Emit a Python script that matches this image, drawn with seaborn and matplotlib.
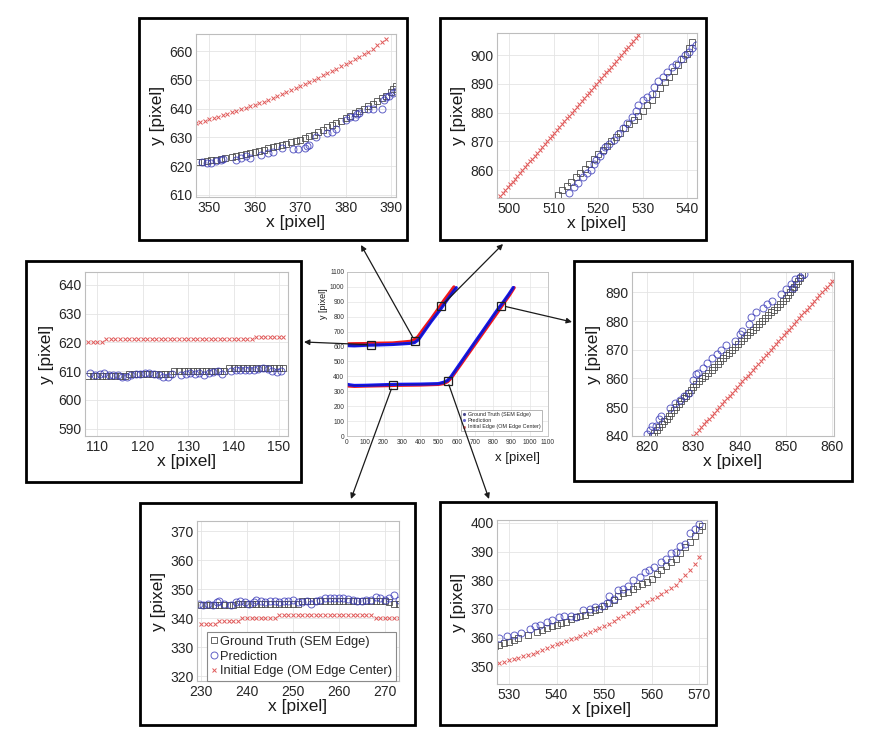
import matplotlib
matplotlib.use("Agg")
import matplotlib.pyplot as plt
from matplotlib.patches import Rectangle, ConnectionPatch
from matplotlib.lines import Line2D
import seaborn as sns

W, H = 892, 739

# ---------------- data ----------------
# overview: upper and lower edges
up_gt_x = [0, 40, 108, 151, 250, 347, 370, 391, 420, 460, 511, 541, 570, 595]
up_gt_y = [606, 604, 608, 611, 614, 621.5, 629, 647, 698, 766, 851, 905, 952, 998]
up_pred_x = [0, 40, 108, 151, 250, 347, 370, 391, 420, 460, 513, 542, 570, 598]
up_pred_y = [607, 605, 609, 610, 614, 621.5, 627, 646, 697, 767, 852, 903, 950, 995]
up_init_x = [0, 40, 108, 151, 250, 347, 370, 388, 420, 460, 498, 529, 560, 585]
up_init_y = [618, 619, 620, 622, 624, 635, 648, 666, 720, 785, 851, 907, 958, 1000]

lo_gt_x = [0, 15, 40, 100, 230, 273, 400, 500, 527, 550, 570, 620, 700, 780, 821, 854, 885, 910]
lo_gt_y = [346, 342, 338, 339, 344.5, 345.5, 347, 350, 357, 371, 398, 486, 627, 768, 840, 896, 950, 996]
lo_pred_x = [0, 15, 40, 100, 230, 273, 400, 500, 528, 550, 570, 620, 700, 780, 820, 854, 885, 910]
lo_pred_y = [347, 343, 339, 340, 345, 346.5, 348, 351, 360, 372, 399.5, 488, 629, 770, 841, 896.5, 950, 996]
lo_init_x = [0, 15, 40, 100, 229, 273, 400, 500, 527, 550, 570, 620, 700, 780, 830, 860, 890, 915]
lo_init_y = [336, 335, 333, 335, 338, 340, 342, 346, 351, 364, 388, 475, 614, 753, 840, 894, 946, 995]

# zoom locations marked on the overview
zoom_x = [130, 370, 515, 250, 550, 845]
zoom_y = [612, 640, 870, 340, 370, 875]

# top-left zoom
tl_init_x = [347, 348, 349, 350, 351, 352, 353, 354, 355, 356, 357, 358, 359, 360, 361, 362, 363, 364, 365, 366, 367,
             368, 369, 370, 371, 372, 373, 374, 375, 376, 377, 378, 379, 380, 381, 382, 383, 384, 385, 386, 387, 388, 389]
tl_init_y = [635.0, 635.4, 635.9, 636.3, 636.8, 637.3, 637.8, 638.3, 638.8, 639.3, 639.8, 640.3, 640.8, 641.3, 641.9,
             642.5, 643.1, 643.7, 644.4, 645.1, 645.8, 646.5, 647.2, 648.0, 648.7, 649.4, 650.1, 650.8, 651.6, 652.4,
             653.1, 653.9, 654.7, 655.5, 656.3, 657.2, 658.1, 659.0, 659.9, 660.9, 662.0, 663.1, 664.3]
tl_gt_x = [347.5, 348.5, 349.5, 350.5, 351.5, 352.5, 353.5, 355, 356, 357, 358, 359, 360, 361, 362, 363, 364, 365, 366,
           367, 368, 369, 370, 371, 372, 373, 374, 375, 376, 377, 378, 379, 380, 381, 382, 383, 384, 385, 386, 387, 388,
           389, 390, 390.5, 391]
tl_gt_y = [621.5, 621.5, 621.7, 622, 622.2, 622.5, 622.8, 623.2, 623.6, 624, 624.3, 624.6, 625, 625.4, 625.8, 626.2,
           626.6, 627, 627.4, 627.9, 628.4, 628.8, 629.2, 629.8, 630.4, 631, 631.8, 632.7, 633.5, 634.3, 635.1, 635.9,
           636.8, 637.6, 638.4, 639.2, 640, 640.9, 641.8, 642.7, 643.6, 644.6, 645.8, 646.8, 648]
tl_pred_x = [348.5, 349.5, 350.5, 351.5, 352.5, 353, 356, 357, 358, 359, 361.5, 363, 364, 366, 368.5, 369.5, 371,
             371.5, 372, 373.5, 376, 377, 378, 380, 381, 382, 382.5, 383, 385, 386, 388, 388.5, 389, 389.5, 390.5, 391]
tl_pred_y = [621.5, 621.3, 621.3, 621.8, 622, 622.5, 622, 622.8, 623.5, 623, 624, 624.5, 625, 626.5, 626, 626, 626.5,
             627, 627.5, 630, 631.5, 632, 633, 636, 637, 637, 638, 638.5, 640, 640, 640, 643, 644, 644.5, 645.5, 646]

# top-right zoom
tr_init_x = [498.0, 498.6, 499.1, 499.7, 500.2, 500.8, 501.3, 501.9, 502.4, 503.0, 503.5, 504.1, 504.6, 505.2, 505.8,
             506.3, 506.9, 507.4, 508.0, 508.5, 509.1, 509.6, 510.2, 510.7, 511.3, 511.9, 512.4, 513.0, 513.5, 514.1,
             514.6, 515.2, 515.7, 516.3, 516.8, 517.4, 517.9, 518.5, 519.1, 519.6, 520.2, 520.7, 521.3, 521.8, 522.4,
             522.9, 523.5, 524.0, 524.6, 525.1, 525.7, 526.3, 526.8, 527.4, 527.9, 528.5, 529.0]
tr_init_y = [851, 852, 853, 854, 855, 856, 857, 858, 859, 860, 861, 862, 863, 864, 865, 866, 867, 868, 869, 870, 871,
             872, 873, 874, 875, 876, 877, 878, 879, 880, 881, 882, 883, 884, 885, 886, 887, 888, 889, 890, 891, 892,
             893, 894, 895, 896, 897, 898, 899, 900, 901, 902, 903, 904, 905, 906, 907]
tr_gt_x = [511, 512, 513, 514, 515, 516, 517, 518, 519, 520, 521, 522, 523, 524, 525, 526, 527, 528, 529, 530, 531,
           532, 533, 534, 535, 536, 537, 538, 539, 540, 540.5, 541]
tr_gt_y = [851.5, 853, 854.5, 856, 857.5, 859, 860.5, 862, 864, 865.5, 867, 868.5, 870, 871.5, 873, 874.5, 876, 877.5,
           879, 880.5, 882.5, 884.5, 886.5, 888.5, 890.5, 892.5, 894.5, 896.5, 898.5, 900.5, 902.5, 904.5]
tr_pred_x = [513.5, 514.5, 515.5, 516.5, 517.5, 518.5, 519, 519.5, 520.5, 521, 521.5, 522.5, 523.5, 524.5, 525.5,
             526.5, 527.5, 528.5, 529, 530, 531, 532, 532.5, 533.5, 534.5, 535.5, 536.5, 537.5, 538.5, 539.5, 540.5,
             541, 542]
tr_pred_y = [852, 854, 855.5, 857.5, 859, 860, 862, 863.5, 865, 866.5, 868, 869, 870.5, 872.5, 874.5, 876.5, 878.5,
             880.5, 882.5, 884.5, 885.5, 886.5, 889, 891, 892.5, 894, 896, 897, 898.5, 900, 901, 902.5, 903.5]

# middle-left zoom
ml_x = [108, 109, 110, 111, 112, 113, 114, 115, 116, 117, 118, 119, 120, 121, 122, 123, 124, 125, 126, 127, 128, 129,
        130, 131, 132, 133, 134, 135, 136, 137, 138, 139, 140, 141, 142, 143, 144, 145, 146, 147, 148, 149, 150, 151]
ml_init_y = [620, 620, 620, 620, 621, 621, 621, 621, 621, 621, 621, 621, 621, 621, 621, 621, 621, 621, 621, 621, 621,
             621, 621, 621, 621, 621, 621, 621, 621, 621, 621, 621, 621, 621, 621, 621, 621, 622, 622, 622, 622, 622,
             622, 622]
ml_gt_y = [608.3, 608.3, 608.3, 608.3, 608.3, 608.3, 608.3, 608.3, 608.3, 609, 609, 609, 609, 609, 609, 609, 609, 609,
           609, 610, 610, 610, 610, 610, 610, 610, 610, 610, 610, 610, 610, 611, 611, 611, 611, 611, 611, 611, 611,
           611, 611, 611, 611, 611]
ml_pred_x = [108.5, 109.5, 110.5, 111.5, 112.5, 113.5, 114.5, 115.5, 116.5, 117.5, 118.5, 119.5, 120.5, 121.5, 122.5,
             123.5, 124.5, 125.5, 126.5, 128.5, 129.5, 130.5, 131.5, 132.5, 133.5, 134.5, 135.5, 136.5, 137.5, 139.5,
             140.5, 141.5, 142.5, 143.5, 144.5, 145.5, 146.5, 147.5, 148.5, 149.5, 150.5]
ml_pred_y = [609.5, 608.5, 609, 609.5, 608.5, 608.5, 608.5, 608, 608, 608.5, 609, 609, 609.3, 609.3, 609, 608.5,
             607.8, 608, 609, 608.5, 609, 609.5, 609, 609.5, 608.8, 609.5, 609.8, 610, 609, 610, 610.3, 610.5, 610.5,
             610.3, 610.5, 610.8, 611, 610.8, 610, 609.8, 610]

# middle-right zoom
mr_init_x = [830.0, 830.6, 831.1, 831.7, 832.2, 832.8, 833.3, 833.9, 834.4, 835.0, 835.6, 836.1, 836.7, 837.2, 837.8,
             838.3, 838.9, 839.5, 840.0, 840.6, 841.1, 841.7, 842.2, 842.8, 843.3, 843.9, 844.5, 845.0, 845.6, 846.1,
             846.7, 847.2, 847.8, 848.3, 848.9, 849.5, 850.0, 850.6, 851.1, 851.7, 852.2, 852.8, 853.3, 853.9, 854.5,
             855.0, 855.6, 856.1, 856.7, 857.2, 857.8, 858.4, 858.9, 859.5, 860.0]
mr_init_y = [840, 841, 842, 843, 844, 845, 846, 847, 848, 849, 850, 851, 852, 853, 854, 855, 856, 857, 858, 859, 860,
             861, 862, 863, 864, 865, 866, 867, 868, 869, 870, 871, 872, 873, 874, 875, 876, 877, 878, 879, 880, 881,
             882, 883, 884, 885, 886, 887, 888, 889, 890, 891, 892, 893, 894]
mr_gt_x = [821.0, 821.5, 822.1, 822.6, 823.1, 823.7, 824.2, 824.7, 825.2, 825.8, 826.3, 826.8, 827.3, 827.9, 828.4,
           828.9, 829.5, 830.0, 830.6, 831.3, 831.9, 832.6, 833.2, 833.9, 834.5, 835.2, 835.8, 836.4, 837.1, 837.7,
           838.4, 839.0, 839.7, 840.3, 841.0, 841.6, 842.3, 842.9, 843.5, 844.2, 844.8, 845.5, 846.1, 846.8, 847.4,
           848.1, 848.7, 849.4, 850.0, 850.4, 850.9, 851.3, 851.7, 852.1, 852.6, 853.0, 853.5]
mr_gt_y = [840, 841, 842, 843, 844, 845, 846, 847, 848, 849, 850, 851, 852, 853, 854, 855, 856, 857, 858, 859, 860,
           861, 862, 863, 864, 865, 866, 867, 868, 869, 870, 871, 872, 873, 874, 875, 876, 877, 878, 879, 880, 881,
           882, 883, 884, 885, 886, 887, 888, 889, 890, 891, 892, 893, 894, 895, 896]
mr_pred_x = [820, 820.5, 821, 822, 822.5, 823, 825, 826, 827, 828, 829, 830, 830.5, 831, 832, 833, 834, 835, 836, 837,
             839, 840, 840.5, 842, 842.5, 843.5, 845, 846, 847, 849, 850, 851, 851.5, 852, 853, 854]
mr_pred_y = [840.5, 842, 843.5, 843.5, 846, 847, 849.5, 851.5, 852.5, 854, 855, 859.5, 861.5, 862, 863.5, 865.5, 867,
             868.5, 870, 871.5, 873, 875.5, 876.5, 879, 881.5, 883, 884.5, 886, 887, 889.5, 891, 893, 891.5, 894.5,
             895.5, 896.5]

# bottom-left zoom
bl_x = [230, 231, 232, 233, 234, 235, 236, 237, 238, 239, 240, 241, 242, 243, 244, 245, 246, 247, 248, 249, 250, 251,
        252, 253, 254, 255, 256, 257, 258, 259, 260, 261, 262, 263, 264, 265, 266, 267, 268, 269, 270, 271, 272, 273]
bl_init_y = [338, 338, 338, 338, 339, 339, 339, 339, 339, 340, 340, 340, 340, 340, 340, 340, 340, 341, 341, 341, 341,
             341, 341, 341, 341, 341, 341, 341, 341, 341, 341, 341, 341, 341, 341, 341, 341, 341, 340, 340, 340, 340,
             340, 340]
bl_gt_y = [344.5, 344.5, 344.5, 344.5, 344.5, 344.5, 344.5, 344.5, 345, 345, 345, 345, 345, 345, 345, 345, 345, 345,
           345, 345, 345, 345, 346, 346, 346, 346, 346, 346, 346, 346, 346, 346, 346, 346, 346, 346, 346, 346, 346,
           346, 346, 345.5, 345, 345]
bl_pred_x = [229.5, 230.5, 231.5, 232.5, 233.5, 234, 235, 236.5, 237.5, 238.5, 239.5, 240.5, 241.5, 242, 243, 244, 245,
             246, 247, 248, 249, 250, 251, 252, 253, 254, 255, 256, 257, 258, 259, 260, 261, 262, 263, 264, 265, 266,
             267, 268, 269, 270, 271, 272, 273]
bl_pred_y = [345, 344.5, 345, 344.5, 345.5, 346, 345, 344.5, 345.5, 346, 345.5, 345, 345.5, 346.5, 346, 345.5, 346,
             346, 345.5, 346, 346, 346.5, 345.5, 345.5, 346, 345, 346, 346.5, 347, 347, 347, 347.2, 347, 346.8, 346.5,
             346, 346, 346.5, 346.5, 347.5, 347, 346.5, 347, 348, 346.5]

# bottom-right zoom
br_init_x = [527, 528, 529, 530, 531, 532, 533, 534, 535, 536, 537, 538, 539, 540, 541, 542, 543, 544, 545, 546, 547,
             548, 549, 550, 551, 552, 553, 554, 555, 556, 557, 558, 559, 560, 561, 562, 563, 564, 565, 566, 567, 568,
             569, 570]
br_init_y = [350.8, 351.1, 351.5, 352.0, 352.4, 352.9, 353.4, 353.9, 354.4, 355.0, 355.6, 356.2, 356.9, 357.6, 358.2,
             358.8, 359.4, 360.0, 360.6, 361.3, 362.0, 362.6, 363.3, 364.0, 364.9, 365.8, 366.7, 367.6, 368.5, 369.4,
             370.3, 371.3, 372.3, 373.3, 374.3, 375.3, 376.3, 377.3, 378.5, 380.0, 381.7, 383.6, 385.8, 388.2]
br_gt_x = [527, 528, 529, 530, 531, 532, 534, 536, 537, 538, 539, 540, 541, 542, 543, 544, 545, 546, 547, 548, 549,
           550, 551, 552, 553, 554, 555, 556, 557, 558, 559, 560, 561, 562, 563, 564, 565, 566, 567, 568, 569, 570,
           570.5]
br_gt_y = [357, 357.5, 358, 358.5, 359, 360, 361, 362, 362.5, 363.5, 364, 364.5, 365, 365.5, 366.5, 367, 367.5, 368,
           369, 369.5, 370, 371, 372, 373, 374.5, 375.5, 376, 377, 378, 378.8, 379.5, 380.5, 382, 383.5, 385, 386.3,
           387.5, 389.5, 391.5, 393.5, 395.5, 397.5, 399]
br_pred_x = [528, 529.5, 531, 532.5, 534.5, 535.5, 536.5, 538, 539, 540.5, 541.5, 543, 544, 545.5, 547, 548, 549.5,
             550.5, 551, 552, 553, 554, 555, 556, 557.5, 558.5, 559.5, 560.5, 562, 563, 564, 565, 566, 567, 568, 569,
             570]
br_pred_y = [360, 360.5, 361, 361.5, 363, 364, 364.5, 365.5, 366, 367, 367.5, 367.5, 367, 369.5, 370, 370.5, 371, 372,
             374.5, 373.5, 376.5, 377, 378, 380, 381, 383, 383.5, 384.5, 386.5, 387.5, 389.5, 390, 392, 392.5, 396.5,
             398, 399.5]

labels = ["Ground Truth (SEM Edge)", "Prediction", "Initial Edge (OM Edge Center)"]

# ---------------- styling ----------------
sns.set_style("whitegrid")
plt.rcParams['font.family'] = ['Liberation Sans', 'DejaVu Sans']

GT_C = "#4a4a4a"
PRED_C = "#3a3ab8"
INIT_C = "#e05a5a"

fig = plt.figure(figsize=(W / 100, H / 100), dpi=100)


def px_axes(l, t, r, b):
    return fig.add_axes([l / W, 1 - b / H, (r - l) / W, (b - t) / H])


def style_ax(ax, xlim, ylim, xticks, yticks, fs=10, lab=12.5):
    ax.set_xlim(xlim)
    ax.set_ylim(ylim)
    ax.set_xticks(xticks)
    ax.set_yticks(yticks)
    ax.grid(True, color="#e4e4e4", lw=0.6)
    for s in ax.spines.values():
        s.set_color("#bdbdbd")
        s.set_linewidth(0.8)
    ax.tick_params(axis="x", length=0, labelsize=fs, labelcolor="#262626", pad=3)
    ax.tick_params(axis="y", length=0, labelsize=fs, labelcolor="#262626", pad=2.5)
    ax.set_xlabel("x [pixel]", fontsize=lab, labelpad=0, color="#1a1a1a")
    ax.set_ylabel("y [pixel]", fontsize=lab, labelpad=3, color="#1a1a1a")


def pts(ax, x, y, marker, color, ms, label=None, alpha=1.0):
    sns.lineplot(x=x, y=y, ax=ax, estimator=None, sort=False, linestyle="none",
                 marker=marker, markersize=ms, markerfacecolor="none",
                 markeredgecolor=color, markeredgewidth=0.7, color=color,
                 alpha=alpha, label=label, legend=False)


def zoom_panel(box, frame, xlim, ylim, xticks, yticks, gt, pred, init, legend=False):
    l, t, r, b = frame
    fig.add_artist(Rectangle((l / W, 1 - b / H), (r - l) / W, (b - t) / H,
                             transform=fig.transFigure, fill=False, ec="black", lw=2))
    ax = px_axes(*box)
    pts(ax, init[0], init[1], "x", INIT_C, 3.2, labels[2])
    pts(ax, gt[0], gt[1], "s", GT_C, 4.2, labels[0], alpha=0.85)
    pts(ax, pred[0], pred[1], "o", PRED_C, 5.0, labels[1], alpha=0.8)
    style_ax(ax, xlim, ylim, xticks, yticks)
    if legend:
        h, lb = ax.get_legend_handles_labels()
        order = [lb.index(s) for s in labels]
        leg = ax.legend([h[i] for i in order], [lb[i] for i in order], loc="lower right",
                        bbox_to_anchor=(0.985, 0.0), borderaxespad=0, fontsize=9.3,
                        handlelength=0.5, handletextpad=0.2, labelspacing=0.2,
                        borderpad=0.3, fancybox=False, framealpha=1)
        leg.get_frame().set_edgecolor("#8a8a8a")
        leg.get_frame().set_linewidth(0.8)
    return ax


zoom_panel((196, 34, 396, 197), (139, 18, 407, 240), (347.1, 391.1), (609.3, 666),
           [350, 360, 370, 380, 390], [610, 620, 630, 640, 650, 660],
           (tl_gt_x, tl_gt_y), (tl_pred_x, tl_pred_y), (tl_init_x, tl_init_y))
zoom_panel((497, 33, 697, 198), (440, 18, 706, 240), (497.3, 542.2), (850.3, 907.7),
           [500, 510, 520, 530, 540], [860, 870, 880, 890, 900],
           (tr_gt_x, tr_gt_y), (tr_pred_x, tr_pred_y), (tr_init_x, tr_init_y))
zoom_panel((85, 272, 288, 436), (26, 261, 301, 482), (107.3, 152), (587.5, 644.4),
           [110, 120, 130, 140, 150], [590, 600, 610, 620, 630, 640],
           (ml_x, ml_gt_y), (ml_pred_x, ml_pred_y), (ml_x, ml_init_y))
zoom_panel((632, 272, 834, 436), (574, 261, 852, 481), (816.7, 860.4), (839.9, 897.1),
           [820, 830, 840, 850, 860], [840, 850, 860, 870, 880, 890],
           (mr_gt_x, mr_gt_y), (mr_pred_x, mr_pred_y), (mr_init_x, mr_init_y))
zoom_panel((197, 521, 399, 681), (140, 503, 415, 725), (229.1, 273.1), (318.4, 373.6),
           [230, 240, 250, 260, 270], [320, 330, 340, 350, 360, 370],
           (bl_x, bl_gt_y), (bl_pred_x, bl_pred_y), (bl_x, bl_init_y), legend=True)
zoom_panel((497, 520, 707, 684), (440, 502, 716, 725), (527.5, 571.6), (343.8, 401),
           [530, 540, 550, 560, 570], [350, 360, 370, 380, 390, 400],
           (br_gt_x, br_gt_y), (br_pred_x, br_pred_y), (br_init_x, br_init_y))

# ---------------- overview ----------------
axc = px_axes(347, 272, 548, 436)
for gx, gy, px_, py_, ix, iy in [(up_gt_x, up_gt_y, up_pred_x, up_pred_y, up_init_x, up_init_y),
                                 (lo_gt_x, lo_gt_y, lo_pred_x, lo_pred_y, lo_init_x, lo_init_y)]:
    sns.lineplot(x=ix, y=iy, ax=axc, estimator=None, sort=False, color="#f01818", lw=2.3)
    sns.lineplot(x=px_, y=py_, ax=axc, estimator=None, sort=False, color="#1414f0", lw=2.3)
    sns.lineplot(x=gx, y=gy, ax=axc, estimator=None, sort=False, color="#202040", lw=0.5, alpha=0.6)
sns.lineplot(x=zoom_x, y=zoom_y, ax=axc, estimator=None, sort=False, linestyle="none", marker="s",
             markersize=5.5, markerfacecolor="none", markeredgecolor="#202020", markeredgewidth=0.9)
axc.set_xlim(0, 1100)
axc.set_ylim(0, 1100)
ticks = [0, 100, 200, 300, 400, 500, 600, 700, 800, 900, 1000, 1100]
axc.set_xticks(ticks)
axc.set_yticks(ticks)
axc.grid(True, color="#e4e4e4", lw=0.5)
for s in axc.spines.values():
    s.set_color("#bdbdbd")
    s.set_linewidth(0.6)
axc.tick_params(length=0, labelsize=4.8, labelcolor="#333333", pad=2)
axc.set_xlabel("x [pixel]", fontsize=9.5, color="#1a1a1a")
axc.xaxis.set_label_coords(0.846, -0.095)
axc.set_ylabel("y [pixel]", fontsize=6.5, color="#1a1a1a")
axc.yaxis.set_label_coords(-0.095, 0.81)
handles = [Line2D([], [], ls="none", marker=".", ms=2.5, color=c) for c in ("#4a4a90", "#6a6ad0", "#e07070")]
cleg = axc.legend(handles, labels, loc="lower right", bbox_to_anchor=(0.97, 0.03), borderaxespad=0,
                  fontsize=3.9, handlelength=0.6, handletextpad=0.3, labelspacing=0.25, borderpad=0.3,
                  fancybox=False, framealpha=1)
cleg.get_frame().set_edgecolor("#9a9a9a")
cleg.get_frame().set_linewidth(0.5)

# arrows from overview to zooms
arrow_tips = [(304, 342), (361, 245), (503, 244), (351, 499), (489, 499), (572, 322)]
for zx, zy, (tx, ty) in zip(zoom_x, zoom_y, arrow_tips):
    con = ConnectionPatch(xyA=(zx, zy), coordsA=axc.transData, xyB=(tx / W, 1 - ty / H),
                          coordsB=fig.transFigure, arrowstyle="-|>", mutation_scale=8,
                          lw=0.9, color="#1a1a1a", shrinkA=3, shrinkB=0, zorder=10)
    fig.add_artist(con)

fig.savefig("out.png", dpi=100, facecolor="white")
